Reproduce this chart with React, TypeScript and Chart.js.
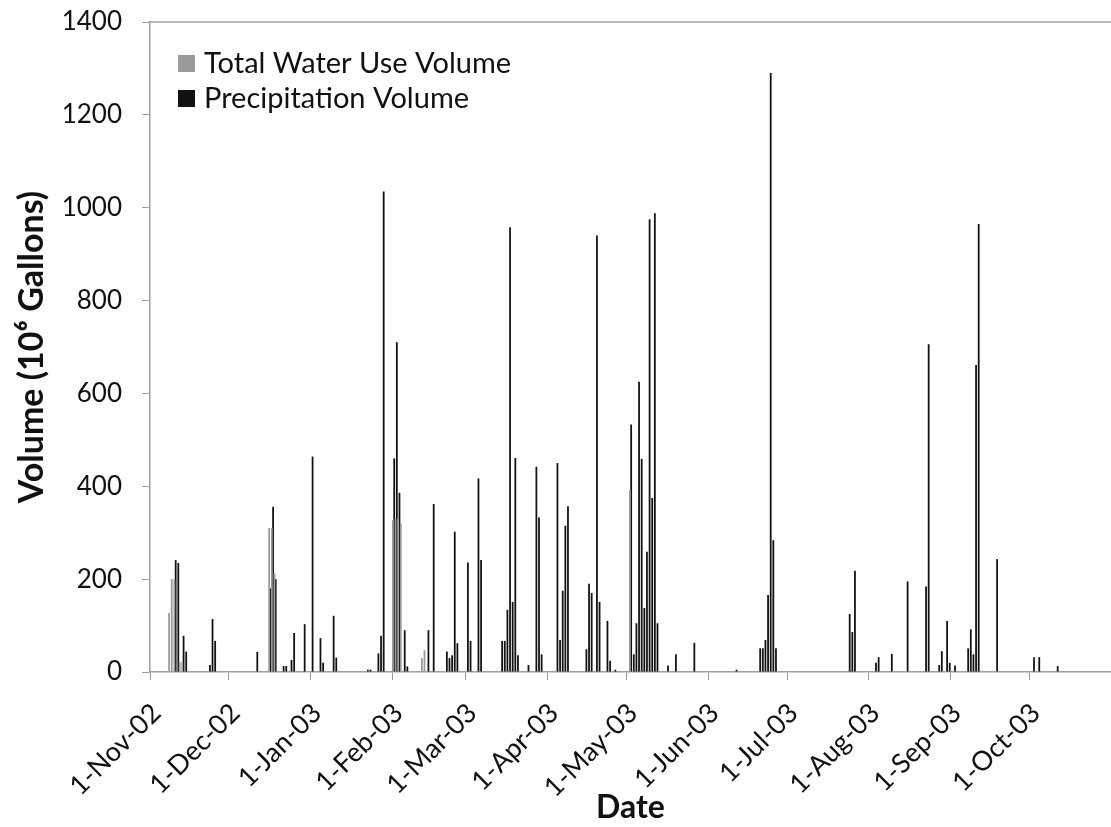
import React, { useEffect, useRef } from 'react';
import { Chart, registerables } from 'chart.js';

Chart.register(...registerables);

// Daily axis: 1-Nov-2002 .. 31-Oct-2003
const startYear = 2002;
const startMonth = 10; // November (0-based)
const dayCount = 365;
const monthNames = ['Jan', 'Feb', 'Mar', 'Apr', 'May', 'Jun', 'Jul', 'Aug', 'Sep', 'Oct', 'Nov', 'Dec'];

const yTickValues = [0, 200, 400, 600, 800, 1000, 1200, 1400];

// Precipitation Volume (10^6 gallons)
const precipDates = [
  '2002-11-10', '2002-11-11', '2002-11-13', '2002-11-14', '2002-11-23', '2002-11-24', '2002-11-25',
  '2002-12-11', '2002-12-16', '2002-12-17', '2002-12-18', '2002-12-21', '2002-12-22', '2002-12-24',
  '2002-12-25', '2002-12-29',
  '2003-01-01', '2003-01-04', '2003-01-05', '2003-01-09', '2003-01-10', '2003-01-22', '2003-01-23',
  '2003-01-26', '2003-01-27', '2003-01-28',
  '2003-02-01', '2003-02-02', '2003-02-03', '2003-02-05', '2003-02-06', '2003-02-14', '2003-02-16',
  '2003-02-21', '2003-02-22', '2003-02-23', '2003-02-24', '2003-02-25',
  '2003-03-01', '2003-03-02', '2003-03-05', '2003-03-06', '2003-03-14', '2003-03-15', '2003-03-16',
  '2003-03-17', '2003-03-18', '2003-03-19', '2003-03-20', '2003-03-24', '2003-03-27', '2003-03-28',
  '2003-03-29',
  '2003-04-04', '2003-04-05', '2003-04-06', '2003-04-07', '2003-04-08', '2003-04-15', '2003-04-16',
  '2003-04-17', '2003-04-19', '2003-04-20', '2003-04-23', '2003-04-24', '2003-04-26',
  '2003-05-02', '2003-05-03', '2003-05-04', '2003-05-05', '2003-05-06', '2003-05-07', '2003-05-08',
  '2003-05-09', '2003-05-10', '2003-05-11', '2003-05-12', '2003-05-16', '2003-05-19', '2003-05-26',
  '2003-06-11', '2003-06-20', '2003-06-21', '2003-06-22', '2003-06-23', '2003-06-24', '2003-06-25',
  '2003-06-26',
  '2003-07-24', '2003-07-25', '2003-07-26',
  '2003-08-03', '2003-08-04', '2003-08-09', '2003-08-15', '2003-08-22', '2003-08-23', '2003-08-27',
  '2003-08-28', '2003-08-30', '2003-08-31',
  '2003-09-02', '2003-09-07', '2003-09-08', '2003-09-09', '2003-09-10', '2003-09-11', '2003-09-18',
  '2003-10-02', '2003-10-04', '2003-10-11',
];
const precipValues = [
  241, 235, 78, 44, 15, 114, 67,
  43, 180, 356, 200, 13, 13, 26,
  84, 103,
  464, 73, 20, 121, 31, 5, 5,
  40, 78, 1035,
  460, 710, 386, 90, 12, 90, 362,
  44, 30, 36, 302, 62,
  236, 67, 417, 241, 67, 67, 134,
  958, 151, 461, 36, 15, 442, 333,
  38,
  450, 69, 175, 315, 357, 49, 190,
  170, 940, 151, 110, 24, 5,
  533, 38, 105, 625, 459, 138, 259,
  975, 375, 988, 105, 14, 38, 63,
  5, 51, 51, 69, 166, 1290, 284,
  51,
  125, 86, 218,
  20, 32, 39, 195, 184, 706, 15,
  45, 110, 20,
  14, 51, 92, 38, 661, 965, 243,
  32, 32, 13,
];

// Total Water Use Volume (10^6 gallons)
const useDates = [
  '2002-11-08', '2002-11-09', '2002-11-10', '2002-11-12', '2002-11-13',
  '2002-12-16', '2002-12-17', '2002-12-18',
  '2003-02-01', '2003-02-02', '2003-02-03', '2003-02-04', '2003-02-12', '2003-02-13',
  '2003-05-02',
];
const useValues = [
  127, 200, 200, 22, 22,
  310, 310, 213,
  327, 330, 330, 320, 30, 47,
  392,
];

const useColor = '#9a9a9a';
const precipColor = '#111111';
const fontFamily = 'Lato';

function isoOf(d: Date) {
  return d.toISOString().slice(0, 10);
}

const dayDates: Date[] = [];
for (let i = 0; i < dayCount; i++) {
  dayDates.push(new Date(Date.UTC(startYear, startMonth, 1 + i)));
}
const dayKeys = dayDates.map(isoOf);
const dayLabels = dayDates.map(
  (d) => `${d.getUTCDate()}-${monthNames[d.getUTCMonth()]}-${String(d.getUTCFullYear()).slice(2)}`
);
const isMonthStart = (i: number) => i >= 0 && i < dayCount && dayDates[i].getUTCDate() === 1;

function buildSeries(dates: string[], values: number[]) {
  const map = new Map<string, number>();
  dates.forEach((d, i) => map.set(d, values[i]));
  return dayKeys.map((k) => map.get(k) ?? 0);
}

const legendPlugin = {
  id: 'insideLegend',
  afterDraw(chart: any) {
    const { ctx, chartArea } = chart;
    ctx.save();
    // top border of the plot area
    ctx.strokeStyle = '#a0a0a0';
    ctx.lineWidth = 1.5;
    ctx.beginPath();
    ctx.moveTo(chartArea.left, chartArea.top);
    ctx.lineTo(chartArea.right, chartArea.top);
    ctx.stroke();
    // legend
    const x0 = chartArea.left + 28;
    const y0 = chartArea.top + 33;
    ctx.font = `29px ${fontFamily}`;
    ctx.textBaseline = 'middle';
    chart.data.datasets.forEach((ds: any, i: number) => {
      const y = y0 + i * 35;
      ctx.fillStyle = ds.backgroundColor;
      ctx.fillRect(x0, y, 17, 17);
      ctx.fillStyle = '#111';
      ctx.fillText(ds.label, x0 + 26, y + 9);
    });
    ctx.restore();
  },
};

export default function App() {
  const canvasRef = useRef<HTMLCanvasElement | null>(null);

  useEffect(() => {
    if (!canvasRef.current) return;
    const chart = new Chart(canvasRef.current, {
      type: 'bar',
      data: {
        labels: dayLabels,
        datasets: [
          {
            label: 'Total Water Use Volume',
            data: buildSeries(useDates, useValues),
            backgroundColor: useColor,
            barPercentage: 1.35,
            categoryPercentage: 1,
          },
          {
            label: 'Precipitation Volume',
            data: buildSeries(precipDates, precipValues),
            backgroundColor: precipColor,
            barPercentage: 1.35,
            categoryPercentage: 1,
          },
        ],
      },
      options: {
        animation: false,
        responsive: false,
        layout: { padding: { left: 0, top: 22, right: 0, bottom: 0 } },
        plugins: { legend: { display: false }, tooltip: { enabled: false } },
        scales: {
          x: {
            grid: {
              drawOnChartArea: false,
              offset: true,
              tickLength: 8,
              color: (c: any) => (isMonthStart(c.index) ? '#999' : 'rgba(0,0,0,0)'),
            },
            border: { color: '#a0a0a0', width: 1.5 },
            ticks: {
              autoSkip: false,
              maxRotation: 45,
              minRotation: 45,
              color: '#111',
              padding: 17,
              labelOffset: 5,
              font: { family: fontFamily, size: 27 },
              callback: (_v: any, i: number) => (isMonthStart(i) ? dayLabels[i] : ''),
            },
            title: {
              display: true,
              text: 'Date',
              color: '#111',
              font: { family: fontFamily, size: 32, weight: 'bold' },
              padding: { top: 0, bottom: 0 },
            },
            afterFit: (s: any) => {
              s.height = 155;
              s.paddingLeft = 0;
              s.paddingRight = 0;
            },
          },
          y: {
            min: 0,
            max: 1400,
            afterBuildTicks: (s: any) => {
              s.ticks = yTickValues.map((v) => ({ value: v }));
            },
            grid: { drawOnChartArea: false, tickLength: 8, color: '#a0a0a0' },
            border: { color: '#a0a0a0', width: 1.5 },
            ticks: {
              color: '#111',
              padding: 20,
              font: { family: fontFamily, size: 26 },
              callback: (v: any) => String(v),
            },
            title: {
              display: true,
              text: 'Volume (10⁶ Gallons)',
              color: '#111',
              font: { family: fontFamily, size: 34, weight: 'bold' },
              padding: { top: 12, bottom: 0 },
            },
            afterFit: (s: any) => {
              s.width = 150;
              s.paddingTop = 0;
              s.paddingBottom = 0;
            },
          },
        },
      },
      plugins: [legendPlugin],
    } as any);

    if ((document as any).fonts) {
      Promise.all([
        document.fonts.load(`26px ${fontFamily}`),
        document.fonts.load(`bold 28px ${fontFamily}`),
      ]).then(() => chart.update()).catch(() => {});
    }

    return () => chart.destroy();
  }, []);

  return (
    <div style={{ position: 'fixed', left: 0, top: 0, width: 1111, height: 827, background: '#fff' }}>
      <canvas ref={canvasRef} width={1111} height={827} style={{ width: 1111, height: 827, display: 'block' }} />
    </div>
  );
}
